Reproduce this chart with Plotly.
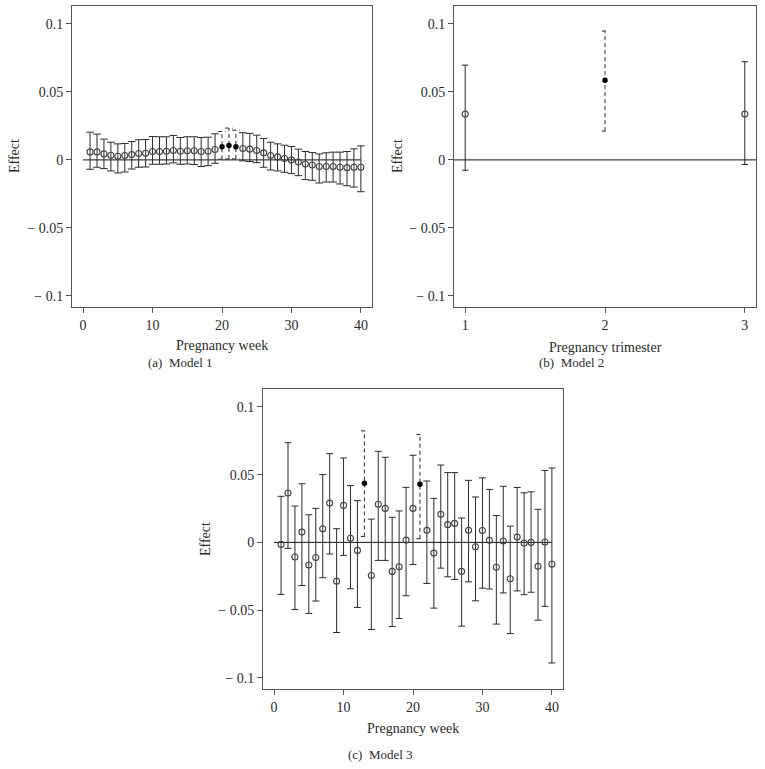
import plotly.graph_objects as go

# ---------------- data ----------------
weeks = list(range(1, 41))

m1_est = [0.0059, 0.0059, 0.0044, 0.0034, 0.0027, 0.0032, 0.0039, 0.0047, 0.0049, 0.0062,
          0.0062, 0.0064, 0.0069, 0.0064, 0.0067, 0.0067, 0.0062, 0.0064, 0.0076, 0.0096,
          0.0106, 0.0096, 0.0084, 0.0079, 0.0069, 0.0052, 0.0032, 0.0022, 0.0010, 0.0000,
          -0.0015, -0.0030, -0.0037, -0.0049, -0.0049, -0.0049, -0.0054, -0.0057, -0.0054, -0.0054]
m1_lo = [-0.0069, -0.0054, -0.0064, -0.0081, -0.0096, -0.0089, -0.0067, -0.0054, -0.0052, -0.0032,
         -0.0032, -0.0030, -0.0022, -0.0032, -0.0030, -0.0034, -0.0049, -0.0042, -0.0025, 0.0005,
         0.0007, 0.0007, -0.0007, -0.0012, -0.0020, -0.0054, -0.0074, -0.0081, -0.0091, -0.0101,
         -0.0116, -0.0145, -0.0150, -0.0170, -0.0163, -0.0163, -0.0177, -0.0190, -0.0200, -0.0234]
m1_hi = [0.0204, 0.0190, 0.0153, 0.0130, 0.0118, 0.0121, 0.0135, 0.0148, 0.0150, 0.0172,
         0.0170, 0.0170, 0.0180, 0.0165, 0.0170, 0.0170, 0.0165, 0.0167, 0.0192, 0.0209,
         0.0234, 0.0219, 0.0200, 0.0195, 0.0182, 0.0158, 0.0130, 0.0118, 0.0108, 0.0099,
         0.0079, 0.0062, 0.0054, 0.0044, 0.0052, 0.0057, 0.0057, 0.0062, 0.0081, 0.0103]
m1_sig = [20, 21, 22]

trimesters = [1, 2, 3]
m2_est = [0.0337, 0.0586, 0.0337]
m2_lo = [-0.0076, 0.0212, -0.0034]
m2_hi = [0.0697, 0.0948, 0.0722]
m2_sig = [2]

m3_est = [-0.0015, 0.0365, -0.0108, 0.0076, -0.0167, -0.0111, 0.0101, 0.0290, -0.0286, 0.0273,
          0.0030, -0.0059, 0.0436, -0.0244, 0.0281, 0.0251, -0.0214, -0.0180, 0.0017, 0.0251,
          0.0429, 0.0089, -0.0079, 0.0207, 0.0131, 0.0140, -0.0214, 0.0089, -0.0032, 0.0088,
          0.0015, -0.0184, 0.0010, -0.0268, 0.0039, -0.0005, 0.0000, -0.0177, 0.0003, -0.0161]
m3_lo = [-0.0384, -0.0044, -0.0495, -0.0318, -0.0525, -0.0433, -0.0261, -0.0086, -0.0665, -0.0096,
         -0.0342, -0.0480, 0.0044, -0.0643, -0.0133, -0.0133, -0.0621, -0.0562, -0.0394, -0.0163,
         0.0027, -0.0303, -0.0485, -0.0190, -0.0254, -0.0273, -0.0618, -0.0291, -0.0431, -0.0338,
         -0.0344, -0.0603, -0.0373, -0.0673, -0.0358, -0.0386, -0.0368, -0.0574, -0.0472, -0.0890]
m3_hi = [0.0340, 0.0736, 0.0268, 0.0433, 0.0204, 0.0251, 0.0500, 0.0655, 0.0101, 0.0623,
         0.0419, 0.0308, 0.0823, 0.0172, 0.0672, 0.0628, 0.0185, 0.0232, 0.0406, 0.0643,
         0.0796, 0.0453, 0.0325, 0.0571, 0.0515, 0.0515, 0.0180, 0.0458, 0.0335, 0.0476,
         0.0391, 0.0198, 0.0414, 0.0120, 0.0405, 0.0366, 0.0373, 0.0244, 0.0531, 0.0549]
m3_sig = [13, 21]

y_ticks = [-0.1, -0.05, 0, 0.05, 0.1]
y_ticktext = ["\u2212 0.1", "\u2212 0.05", "0", "0.05", "0.1"]
week_ticks = [0, 10, 20, 30, 40]

FONT = "Liberation Serif"
INK = "#2a2a2a"
FRAME = "#555555"


def segments(xs, lo, hi, keep, cap):
    X, Y = [], []
    for x, l, h in zip(xs, lo, hi):
        if not keep(x):
            continue
        X += [x, x, None, x - cap, x + cap, None, x - cap, x + cap, None]
        Y += [l, h, None, l, l, None, h, h, None]
    return X, Y


fig = go.Figure()


def add_panel(xs, est, lo, hi, sig, cap, xa, ya):
    sx, sy = segments(xs, lo, hi, lambda x: x not in sig, cap)
    fig.add_trace(go.Scatter(x=sx, y=sy, mode="lines", xaxis=xa, yaxis=ya,
                             line=dict(color=INK, width=1), hoverinfo="skip"))
    dx, dy = segments(xs, lo, hi, lambda x: x in sig, cap)
    fig.add_trace(go.Scatter(x=dx, y=dy, mode="lines", xaxis=xa, yaxis=ya,
                             line=dict(color=INK, width=1, dash="4px,3px"), hoverinfo="skip"))
    ox = [x for x in xs if x not in sig]
    oy = [e for x, e in zip(xs, est) if x not in sig]
    fig.add_trace(go.Scatter(x=ox, y=oy, mode="markers", xaxis=xa, yaxis=ya,
                             marker=dict(symbol="circle-open", size=6, color="#444444",
                                         line=dict(width=1.1, color="#444444"))))
    fx = [x for x in xs if x in sig]
    fy = [e for x, e in zip(xs, est) if x in sig]
    fig.add_trace(go.Scatter(x=fx, y=fy, mode="markers", xaxis=xa, yaxis=ya,
                             marker=dict(symbol="circle", size=5.5, color="#000000")))


# zero reference lines
fig.add_trace(go.Scatter(x=[week_ticks[0], week_ticks[-1]], y=[0, 0], mode="lines",
                         xaxis="x", yaxis="y", line=dict(color="#111", width=1), hoverinfo="skip"))
fig.add_trace(go.Scatter(x=[week_ticks[0], week_ticks[-1]], y=[0, 0], mode="lines",
                         xaxis="x3", yaxis="y3", line=dict(color="#111", width=1), hoverinfo="skip"))
fig.add_shape(type="line", xref="x2 domain", yref="y2", x0=0, x1=1, y0=0, y1=0,
              line=dict(color="#111", width=1))

add_panel(weeks, m1_est, m1_lo, m1_hi, m1_sig, 0.55, "x", "y")
add_panel(trimesters, m2_est, m2_lo, m2_hi, m2_sig, 0.023, "x2", "y2")
add_panel(weeks, m3_est, m3_lo, m3_hi, m3_sig, 0.5, "x3", "y3")

W, H = 765, 769


def dom_x(a, b):
    return [a / W, b / W]


def dom_y(top, bottom):
    return [1 - bottom / H, 1 - top / H]


axis_common = dict(showline=True, mirror=True, linecolor=FRAME, linewidth=1,
                   ticks="outside", ticklen=5, tickcolor=FRAME, tickwidth=1,
                   showgrid=False, zeroline=False,
                   tickfont=dict(family=FONT, size=14, color=INK))

yrange = [-0.1082, 0.1132]
fig.update_layout(
    width=W, height=H, margin=dict(l=0, r=0, t=0, b=0),
    paper_bgcolor="white", plot_bgcolor="white", showlegend=False,
    xaxis=dict(domain=dom_x(72, 372), range=[-1.6, 41.6], tickvals=week_ticks,
               anchor="y", **axis_common),
    yaxis=dict(domain=dom_y(6, 307), range=yrange, tickvals=y_ticks, ticktext=y_ticktext,
               anchor="x", **axis_common),
    xaxis2=dict(domain=dom_x(454, 756), range=[0.92, 3.08], tickvals=trimesters,
                anchor="y2", **axis_common),
    yaxis2=dict(domain=dom_y(6, 307), range=yrange, tickvals=y_ticks, ticktext=y_ticktext,
                anchor="x2", **axis_common),
    xaxis3=dict(domain=dom_x(263, 563), range=[-1.6, 41.6], tickvals=week_ticks,
                anchor="y3", **axis_common),
    yaxis3=dict(domain=dom_y(389, 689), range=yrange, tickvals=y_ticks, ticktext=y_ticktext,
                anchor="x3", **axis_common),
)


def note(text, px, py, size=14, angle=0):
    fig.add_annotation(text=text, x=px / W, y=1 - py / H, xref="paper", yref="paper",
                       showarrow=False, textangle=angle, xanchor="center", yanchor="middle",
                       font=dict(family=FONT, size=size, color=INK))


note("Effect", 14, 156, angle=-90)
note("Effect", 397, 156, angle=-90)
note("Effect", 205, 539, angle=-90)
note("Pregnancy week", 222, 345)
note("Pregnancy trimester", 605, 347)
note("Pregnancy week", 413, 728)
note("(a)\u00a0\u00a0Model 1", 180, 362, size=13)
note("(b)\u00a0\u00a0Model 2", 571, 362, size=13)
note("(c)\u00a0\u00a0Model 3", 380, 754, size=13)

fig.write_html("out.html", config={"displayModeBar": False},
               post_script="document.body.style.margin='0';")
